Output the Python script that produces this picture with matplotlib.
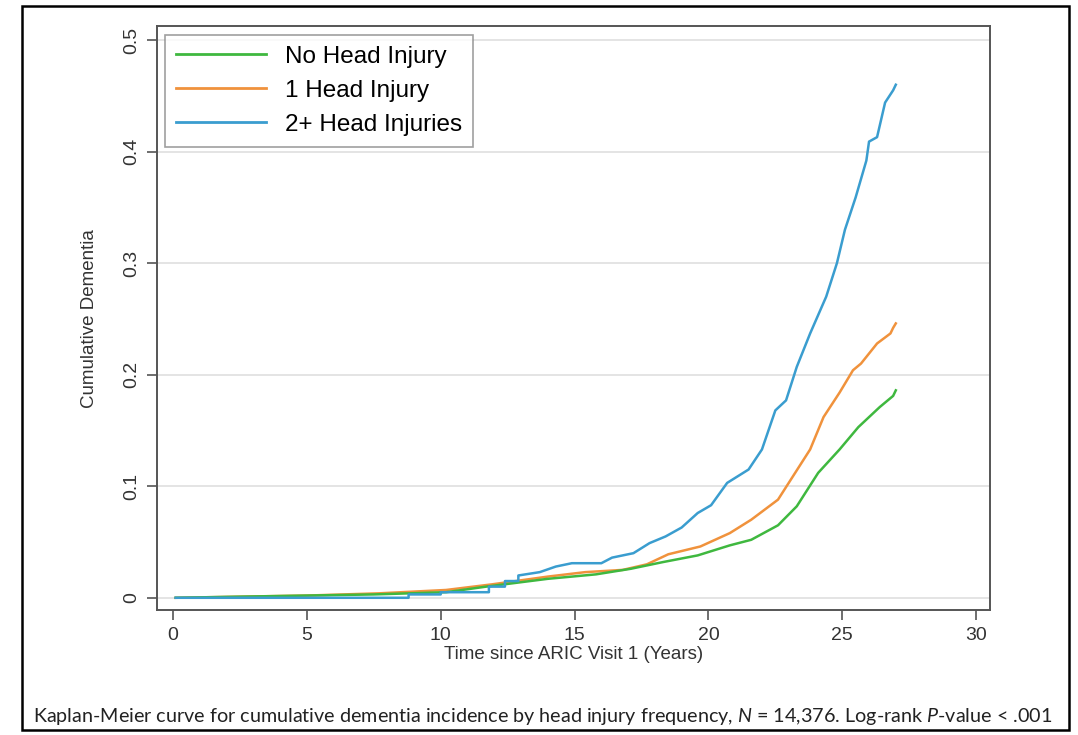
import matplotlib.pyplot as plt
from matplotlib.patches import Rectangle

plt.rcParams['font.family'] = ['Liberation Sans', 'DejaVu Sans']
plt.rcParams['mathtext.fontset'] = 'custom'
plt.rcParams['mathtext.rm'] = 'Lato'
plt.rcParams['mathtext.it'] = 'Lato:italic'

# values (years, cumulative incidence)
none_t = [0.1, 2.5, 5, 7.5, 10.2, 11.7, 14.0, 15.8, 17.1, 18.3, 19.6, 20.8, 21.6,
          22.6, 23.3, 24.1, 24.9, 25.6, 26.4, 26.9, 27.0]
none_y = [0.0, 0.001, 0.002, 0.003, 0.005, 0.010, 0.017, 0.021, 0.026, 0.032, 0.038,
          0.047, 0.052, 0.065, 0.082, 0.112, 0.133, 0.153, 0.171, 0.181, 0.186]

one_t = [0.1, 2.5, 5, 7.7, 10.2, 11.9, 14.0, 15.4, 16.8, 17.7, 18.5, 19.7, 20.8, 21.6,
         22.6, 23.0, 23.8, 24.3, 24.9, 25.4, 25.7, 26.3, 26.8, 26.9, 27.0]
one_y = [0.0, 0.001, 0.002, 0.004, 0.007, 0.012, 0.019, 0.023, 0.025, 0.030, 0.039,
         0.046, 0.058, 0.070, 0.088, 0.103, 0.133, 0.162, 0.184, 0.204, 0.210, 0.228,
         0.237, 0.242, 0.246]

two_t = [0.1, 8.8, 8.8, 10.0, 10.0, 11.8, 11.8, 12.4, 12.4, 12.9, 12.9, 13.7, 14.3,
         14.9, 16.0, 16.4, 17.2, 17.8, 18.4, 19.0, 19.6, 20.1, 20.7, 21.5, 22.0, 22.5,
         22.9, 23.3, 23.8, 24.4, 24.8, 25.1, 25.5, 25.9, 26.0, 26.3, 26.6, 26.9, 27.0]
two_y = [0.0, 0.0, 0.003, 0.003, 0.005, 0.005, 0.010, 0.010, 0.015, 0.015, 0.020,
         0.023, 0.028, 0.031, 0.031, 0.036, 0.040, 0.049, 0.055, 0.063, 0.076, 0.083,
         0.103, 0.115, 0.133, 0.168, 0.177, 0.207, 0.237, 0.270, 0.300, 0.330, 0.359,
         0.392, 0.409, 0.413, 0.444, 0.455, 0.460]

labels = ['No Head Injury', '1 Head Injury', '2+ Head Injuries']
colors = ['#3fb83f', '#f0923c', '#3a9dcf']

fig = plt.figure(figsize=(10.78, 7.35), dpi=100)
ax = fig.add_axes([0.1456, 0.170, 0.7728, 0.7944])

ax.plot(none_t, none_y, color=colors[0], lw=1.8, label=labels[0], zorder=3)
ax.plot(one_t, one_y, color=colors[1], lw=1.8, label=labels[1], zorder=2)
ax.plot(two_t, two_y, color=colors[2], lw=1.8, label=labels[2], zorder=4)

ax.set_xlim(-0.6, 30.52)
ax.set_ylim(-0.011, 0.5125)
ax.set_xticks([0, 5, 10, 15, 20, 25, 30])
ax.set_yticks([0, 0.1, 0.2, 0.3, 0.4, 0.5])
ax.set_yticklabels(['0', '0.1', '0.2', '0.3', '0.4', '0.5'], rotation=90, va='center')
ax.grid(axis='y', color='#e2e2e2', lw=1.3)
ax.set_axisbelow(True)
for s in ax.spines.values():
    s.set_color('#555555')
    s.set_linewidth(1.4)
ax.tick_params(direction='out', length=7, width=1.2, color='#555555',
               labelsize=14, labelcolor='#333333', pad=5)

ax.set_xlabel('Time since ARIC Visit 1 (Years)', fontsize=13.5, color='#333333', labelpad=2)
ax.set_ylabel('Cumulative Dementia', fontsize=13.5, color='#333333', labelpad=18)

leg = ax.legend(loc='upper left', fontsize=17.5, frameon=True, fancybox=False,
                handlelength=3.7, handletextpad=0.75, borderpad=0.45,
                labelspacing=0.5, borderaxespad=0.35)
leg.get_frame().set_edgecolor('#888888')
leg.get_frame().set_linewidth(1.2)
for line in leg.get_lines():
    line.set_linewidth(2)

fig.text(0.503, 0.018,
         'Kaplan-Meier curve for cumulative dementia incidence by head injury frequency, '
         '$N$ = 14,376. Log-rank $P$-value < .001',
         ha='center', va='baseline', fontsize=14.2, family='Lato', color='#222222')

fig.patches.append(Rectangle((0.0204, 0.007), 0.971, 0.985, transform=fig.transFigure,
                             fill=False, edgecolor='black', lw=1.8))

fig.savefig('out.png', dpi=100)
